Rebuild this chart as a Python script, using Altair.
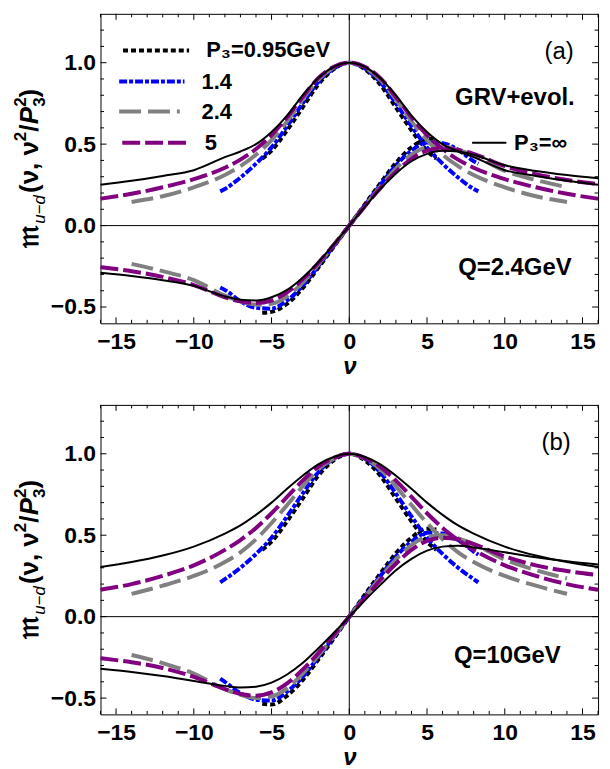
import altair as alt
import pandas as pd

# ---------------- data ----------------
V_WIDE = [-16, -14, -12, -10, -8, -7, -6, -5, -4, -3, -2, -1, 0, 1, 2, 3, 4, 5, 6, 7, 8, 10, 12, 14, 16]
V_GRAY = [-14, -12, -10, -8, -7, -6, -5, -4, -3, -2, -1, 0, 1, 2, 3, 4, 5, 6, 7, 8, 10, 12, 14]
V_BLUE = [-8.3, -8, -7, -6, -5, -4, -3, -2, -1, 0, 1, 2, 3, 4, 5, 6, 7, 8, 8.3]
V_DOT = [-5.6, -5, -4, -3, -2, -1, 0, 1, 2, 3, 4, 5, 5.6]

# panel (a): Q = 2.4 GeV
A_RE_095 = [0.41, 0.46, 0.585, 0.725, 0.865, 0.96, 1.0, 0.96, 0.865, 0.725, 0.585, 0.46, 0.41]
A_IM_095 = [-0.535, -0.53, -0.48, -0.385, -0.26, -0.13, 0, 0.13, 0.26, 0.385, 0.48, 0.53, 0.535]
A_RE_14 = [0.21, 0.225, 0.295, 0.38, 0.48, 0.61, 0.75, 0.88, 0.965, 1.0, 0.965, 0.88, 0.75, 0.61, 0.48, 0.38, 0.295, 0.225, 0.21]
A_IM_14 = [-0.38, -0.395, -0.465, -0.505, -0.51, -0.46, -0.37, -0.25, -0.125, 0, 0.125, 0.25, 0.37, 0.46, 0.51, 0.505, 0.465, 0.395, 0.38]
A_RE_24 = [0.145, 0.18, 0.235, 0.31, 0.365, 0.435, 0.525, 0.64, 0.775, 0.895, 0.97, 1.0, 0.97, 0.895, 0.775, 0.64, 0.525, 0.435, 0.365, 0.31, 0.235, 0.18, 0.145]
A_IM_24 = [-0.235, -0.28, -0.335, -0.43, -0.465, -0.485, -0.48, -0.435, -0.35, -0.24, -0.12, 0, 0.12, 0.24, 0.35, 0.435, 0.48, 0.485, 0.465, 0.43, 0.335, 0.28, 0.235]
A_RE_5 = [0.165, 0.195, 0.235, 0.285, 0.355, 0.405, 0.47, 0.555, 0.665, 0.79, 0.905, 0.975, 1.0, 0.975, 0.905, 0.79, 0.665, 0.555, 0.47, 0.405, 0.355, 0.285, 0.235, 0.195, 0.165]
A_IM_5 = [-0.255, -0.28, -0.315, -0.365, -0.44, -0.465, -0.475, -0.46, -0.41, -0.33, -0.23, -0.118, 0, 0.118, 0.23, 0.33, 0.41, 0.46, 0.475, 0.465, 0.44, 0.365, 0.315, 0.28, 0.255]
A_RE_INF = [0.25, 0.275, 0.305, 0.34, 0.42, 0.455, 0.50, 0.575, 0.675, 0.80, 0.905, 0.975, 1.0, 0.975, 0.905, 0.80, 0.675, 0.575, 0.50, 0.455, 0.42, 0.34, 0.305, 0.275, 0.25]
A_IM_INF = [-0.29, -0.31, -0.335, -0.37, -0.435, -0.455, -0.46, -0.44, -0.395, -0.32, -0.225, -0.115, 0, 0.115, 0.225, 0.32, 0.395, 0.44, 0.46, 0.455, 0.435, 0.37, 0.335, 0.31, 0.29]

# panel (b): Q = 10 GeV
B_RE_095 = [0.41, 0.46, 0.585, 0.725, 0.865, 0.96, 1.0, 0.96, 0.865, 0.725, 0.585, 0.46, 0.41]
B_IM_095 = [-0.535, -0.54, -0.485, -0.39, -0.265, -0.135, 0, 0.135, 0.265, 0.39, 0.485, 0.54, 0.535]
B_RE_14 = [0.21, 0.23, 0.3, 0.385, 0.485, 0.615, 0.755, 0.885, 0.97, 1.0, 0.97, 0.885, 0.755, 0.615, 0.485, 0.385, 0.3, 0.23, 0.21]
B_IM_14 = [-0.38, -0.4, -0.47, -0.51, -0.515, -0.46, -0.37, -0.25, -0.125, 0, 0.125, 0.25, 0.37, 0.46, 0.515, 0.51, 0.47, 0.4, 0.38]
B_RE_24 = [0.14, 0.19, 0.25, 0.335, 0.395, 0.475, 0.575, 0.685, 0.8, 0.905, 0.97, 1.0, 0.97, 0.905, 0.8, 0.685, 0.575, 0.475, 0.395, 0.335, 0.25, 0.19, 0.14]
B_IM_24 = [-0.235, -0.285, -0.35, -0.445, -0.48, -0.5, -0.49, -0.44, -0.35, -0.24, -0.12, 0, 0.12, 0.24, 0.35, 0.44, 0.49, 0.5, 0.48, 0.445, 0.35, 0.285, 0.235]
B_RE_5 = [0.165, 0.2, 0.25, 0.315, 0.41, 0.47, 0.545, 0.635, 0.735, 0.835, 0.92, 0.975, 1.0, 0.975, 0.92, 0.835, 0.735, 0.635, 0.545, 0.47, 0.41, 0.315, 0.25, 0.2, 0.165]
B_IM_5 = [-0.255, -0.28, -0.315, -0.37, -0.445, -0.475, -0.485, -0.465, -0.41, -0.325, -0.225, -0.112, 0, 0.112, 0.225, 0.325, 0.41, 0.465, 0.485, 0.475, 0.445, 0.37, 0.315, 0.28, 0.255]
B_RE_INF = [0.305, 0.335, 0.375, 0.43, 0.51, 0.56, 0.625, 0.70, 0.785, 0.865, 0.935, 0.98, 1.0, 0.98, 0.935, 0.865, 0.785, 0.70, 0.625, 0.56, 0.51, 0.43, 0.375, 0.335, 0.305]
B_IM_INF = [-0.32, -0.34, -0.365, -0.395, -0.425, -0.435, -0.43, -0.405, -0.355, -0.285, -0.195, -0.1, 0, 0.1, 0.195, 0.285, 0.355, 0.405, 0.43, 0.435, 0.425, 0.395, 0.365, 0.34, 0.32]

SERIES = ["0.95", "1.4", "2.4", "5", "inf"]
GRIDS = {"0.95": V_DOT, "1.4": V_BLUE, "2.4": V_GRAY, "5": V_WIDE, "inf": V_WIDE}
PANELS = {
    "a": {"0.95": (A_RE_095, A_IM_095), "1.4": (A_RE_14, A_IM_14), "2.4": (A_RE_24, A_IM_24),
          "5": (A_RE_5, A_IM_5), "inf": (A_RE_INF, A_IM_INF)},
    "b": {"0.95": (B_RE_095, B_IM_095), "1.4": (B_RE_14, B_IM_14), "2.4": (B_RE_24, B_IM_24),
          "5": (B_RE_5, B_IM_5), "inf": (B_RE_INF, B_IM_INF)},
}
LEGEND_LABELS = ["P\u2083=0.95GeV", "1.4", "2.4", "5"]
X_MAJOR = [-15, -10, -5, 0, 5, 10, 15]
X_MINOR = [-16, -14, -13, -12, -11, -9, -8, -7, -6, -4, -3, -2, -1, 1, 2, 3, 4, 6, 7, 8, 9, 11, 12, 13, 14, 16]
Y_MAJOR = [-0.5, 0.0, 0.5, 1.0]
Y_MINOR = [-0.4, -0.3, -0.2, -0.1, 0.1, 0.2, 0.3, 0.4, 0.6, 0.7, 0.8, 0.9, 1.1, 1.2]

# ---------------- styles ----------------
FONT = "Liberation Sans"
W, H = 500, 311
STYLE = {
    "0.95": dict(color="#000000", strokeDash=[5, 3], strokeWidth=4),
    "1.4": dict(color="#0000ff", strokeDash=[8, 2, 4, 2], strokeWidth=4),
    "2.4": dict(color="#808080", strokeDash=[22, 7], strokeWidth=4),
    "5": dict(color="#800080", strokeDash=[18, 5], strokeWidth=4),
    "inf": dict(color="#000000", strokeWidth=2),
}
xs = alt.Scale(domain=[-16, 16], nice=False, zero=False)
ys = alt.Scale(domain=[-0.6, 1.3], nice=False, zero=False)
XAX = alt.Axis(values=X_MAJOR, format="d", titleFontStyle="italic", titleFontWeight="bold",
               titleFont=FONT, titleFontSize=24, titlePadding=1, labelPadding=7)
YAX = alt.Axis(values=Y_MAJOR, format=".1f", labelPadding=5)
ONE = pd.DataFrame({"k": [0]})


def xq(field):
    return alt.X(field, type="quantitative", scale=xs, title="\u03bd", axis=XAX)


def xd(val):
    return alt.X(datum=val, type="quantitative", scale=xs, title="\u03bd", axis=XAX)


def yq(field):
    return alt.Y(field, type="quantitative", scale=ys, title=None, axis=YAX)


def yd(val):
    return alt.Y(datum=val, type="quantitative", scale=ys, title=None, axis=YAX)


def series_df(panel, s):
    re, im = PANELS[panel][s]
    g = GRIDS[s]
    return pd.DataFrame({"v": g + g, "val": re + im, "part": ["re"] * len(g) + ["im"] * len(g)})


def tick_layers():
    out = []
    for vals, ln in ((X_MAJOR, 6), (X_MINOR, 3.5)):
        d = pd.DataFrame({"t": vals})
        out.append(alt.Chart(d).mark_rule(color="black", strokeWidth=1).encode(
            x=xq("t"), y=alt.value(H), y2=alt.value(H - ln)))
        out.append(alt.Chart(d).mark_rule(color="black", strokeWidth=1).encode(
            x=xq("t"), y=alt.value(0), y2=alt.value(ln)))
    for vals, ln in ((Y_MAJOR, 6), (Y_MINOR, 3.5)):
        d = pd.DataFrame({"t": vals})
        out.append(alt.Chart(d).mark_rule(color="black", strokeWidth=1).encode(
            y=yq("t"), x=alt.value(0), x2=alt.value(ln)))
        out.append(alt.Chart(d).mark_rule(color="black", strokeWidth=1).encode(
            y=yq("t"), x=alt.value(W), x2=alt.value(W - ln)))
    return out


def text_px(txt, x, y, size, style="normal", weight="bold", font=FONT, angle=0, align="left",
            baseline="alphabetic"):
    kw = dict(align=align, baseline=baseline, fontSize=size, fontStyle=style, fontWeight=weight,
              font=font, color="black")
    if angle:
        kw["angle"] = angle
    return alt.Chart(ONE).mark_text(**kw).encode(x=alt.value(x), y=alt.value(y), text=alt.value(txt))


def text_data(txt, x, y, size, weight="bold", align="left", style="normal"):
    return alt.Chart(ONE).mark_text(align=align, baseline="middle", fontSize=size, fontWeight=weight,
                                    fontStyle=style, font=FONT, color="black").encode(
        x=xd(x), y=yd(y), text=alt.value(txt))


def ytitle_layers():
    # pieces of  m_{u-d}(nu, nu^2/P3^2), rotated, reading upward
    pieces = [
        ("\U0001D52A", -63, 235, 30, "normal", "bold", "DejaVu Sans"),
        ("u\u2212d", -56, 211, 17, "italic", "normal", FONT),
        ("(\u03bd, \u03bd", -63, 180, 26, "normal", "bold", FONT),
        ("2", -75, 128, 17, "normal", "bold", FONT),
        ("/", -63, 118.5, 26, "normal", "bold", FONT),
        ("P", -63, 111, 26, "italic", "bold", FONT),
        ("3", -56, 93.5, 17, "normal", "bold", FONT),
        ("2", -75, 93.5, 17, "normal", "bold", FONT),
        (")", -63, 84, 26, "normal", "bold", FONT),
    ]
    return [text_px(t, x, y, s, style=st, weight=wt, font=f, angle=270) for t, x, y, s, st, wt, f in pieces]


def panel(name):
    layers = []
    # zero lines
    layers.append(alt.Chart(ONE).mark_rule(color="black", strokeWidth=1).encode(x=xd(0)))
    layers.append(alt.Chart(ONE).mark_rule(color="black", strokeWidth=1).encode(y=yd(0)))
    layers += tick_layers()
    for s in SERIES:
        layers.append(alt.Chart(series_df(name, s)).mark_line(interpolate="monotone", **STYLE[s]).encode(
            x=xq("v"), y=yq("val"), detail="part:N"))
    if name == "a":
        leg = [(-14.55, -10.3, 1.075, -9.2), (-14.8, -10.6, 0.884, -9.5),
               (-14.8, -10.9, 0.70, -9.5), (-14.6, -10.4, 0.508, -9.3)]
        for s, lab, (x1, x2, yy, xt) in zip(SERIES[:4], LEGEND_LABELS, leg):
            layers.append(alt.Chart(ONE).mark_rule(**STYLE[s]).encode(
                x=xd(x1), x2=alt.datum(x2), y=yd(yy)))
            layers.append(text_data(lab, xt, yy, 22))
        layers.append(alt.Chart(ONE).mark_rule(**STYLE["inf"]).encode(
            x=xd(7.9), x2=alt.datum(10.1), y=yd(0.508)))
        layers.append(text_data("P\u2083=\u221e", 10.6, 0.508, 22))
        layers.append(text_data("(a)", 13.5, 1.065, 24, weight="normal", align="center"))
        layers.append(text_data("GRV+evol.", 14.5, 0.78, 24, align="right"))
        layers.append(text_data("Q=2.4GeV", 14.3, -0.26, 24, align="right"))
    else:
        layers.append(text_data("(b)", 13.3, 1.065, 24, weight="normal", align="center"))
        layers.append(text_data("Q=10GeV", 13.6, -0.24, 24, align="right"))
    layers += ytitle_layers()
    return alt.layer(*layers).properties(width=W, height=H)


chart = alt.vconcat(panel("a"), panel("b"), spacing=25).properties(
    padding={"left": 11, "top": 11, "right": 3, "bottom": 0}
).configure_view(stroke="black", strokeWidth=1).configure_axis(
    domain=False, ticks=False, tickSize=0, grid=False, labelFont=FONT, labelFontSize=23,
    labelFontWeight="bold", labelColor="black", titleColor="black"
)

chart.save("out.html", embed_options={"renderer": "svg", "actions": False})
